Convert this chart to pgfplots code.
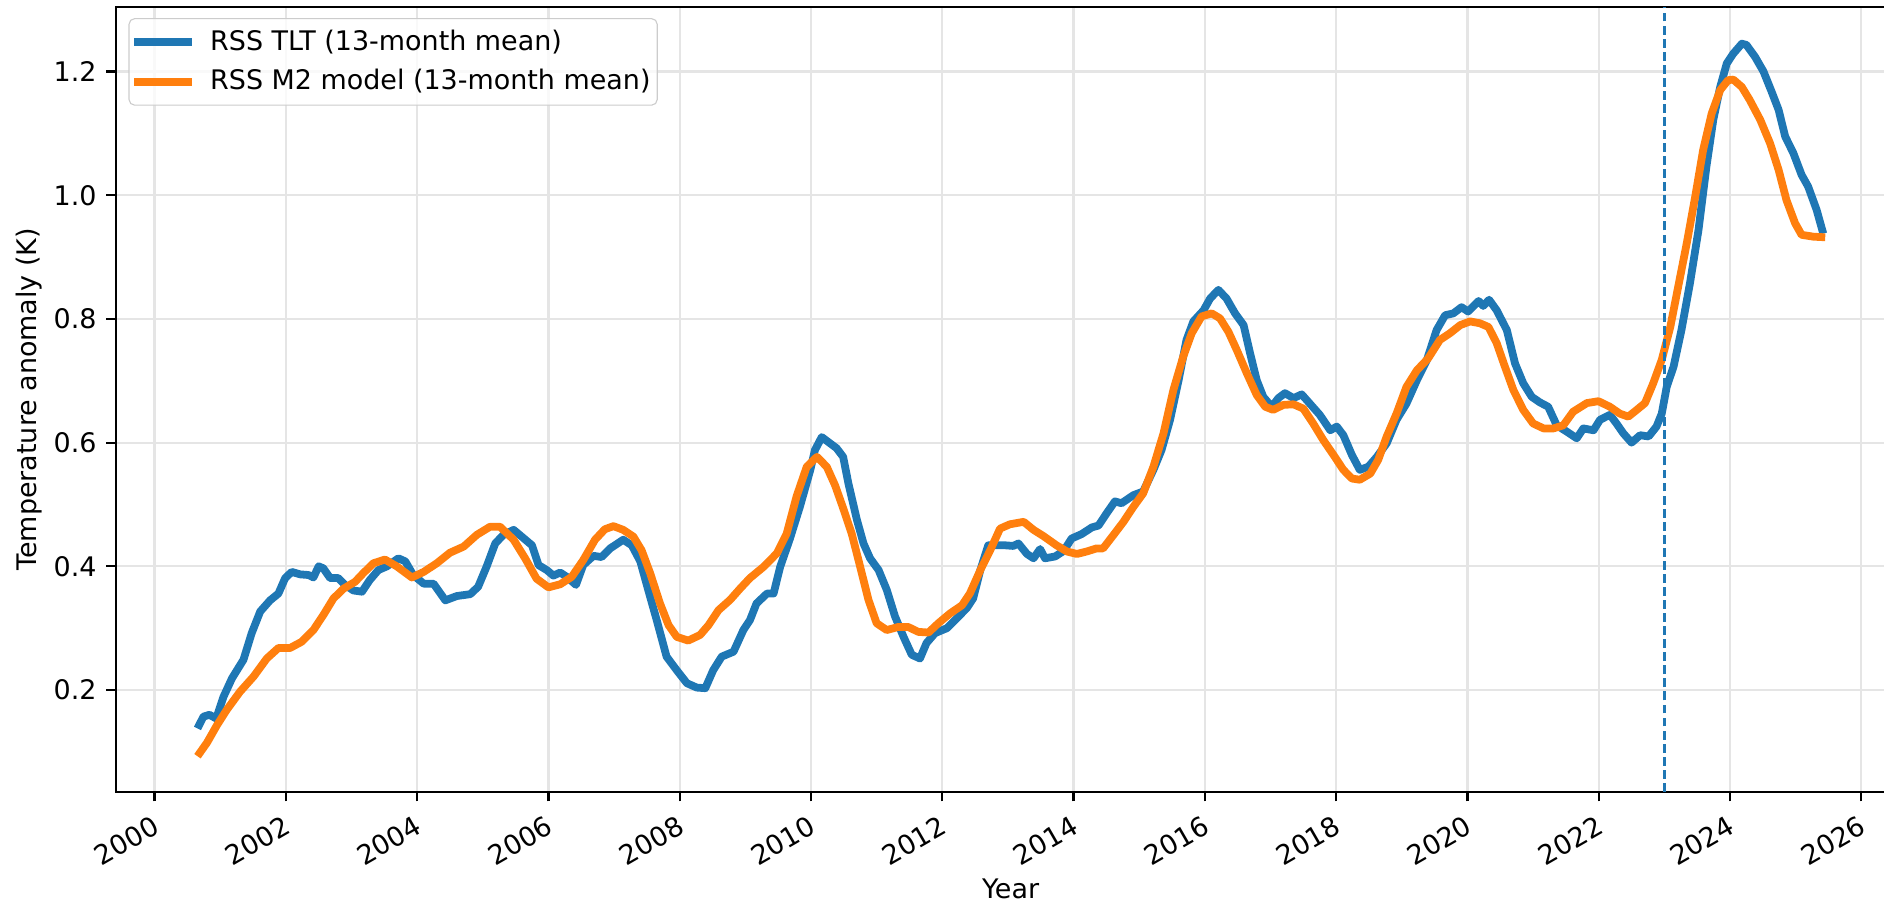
\documentclass[border=0pt]{standalone}
\usepackage{fontspec}
\setmainfont{DejaVu Sans}
\usepackage{pgfplots}
\usepackage{pgfplotstable}
\pgfplotsset{compat=1.18}
\usetikzlibrary{calc}
\definecolor{tabblue}{HTML}{1F77B4}
\definecolor{taborange}{HTML}{FF7F0E}
\newcommand{\chartfont}{\fontsize{9.7}{11.6}\selectfont}

\pgfplotstableread{
x y
2000.654 0.138
2000.745 0.157
2000.836 0.160
2000.94 0.154
2001.05 0.189
2001.18 0.219
2001.355 0.249
2001.48 0.292
2001.61 0.327
2001.76 0.345
2001.887 0.356
2001.99 0.381
2002.09 0.391
2002.22 0.387
2002.345 0.386
2002.42 0.382
2002.50 0.400
2002.57 0.397
2002.675 0.381
2002.80 0.381
2002.90 0.370
2003.03 0.361
2003.16 0.359
2003.28 0.378
2003.41 0.394
2003.54 0.400
2003.715 0.413
2003.82 0.408
2003.94 0.386
2004.10 0.372
2004.25 0.372
2004.43 0.345
2004.605 0.352
2004.81 0.355
2004.93 0.367
2005.06 0.400
2005.19 0.437
2005.315 0.451
2005.47 0.459
2005.594 0.448
2005.75 0.434
2005.85 0.402
2005.975 0.394
2006.076 0.385
2006.18 0.390
2006.28 0.383
2006.42 0.370
2006.53 0.402
2006.686 0.417
2006.81 0.415
2006.94 0.429
2007.14 0.443
2007.27 0.434
2007.40 0.408
2007.52 0.362
2007.65 0.313
2007.80 0.254
2007.955 0.232
2008.11 0.211
2008.26 0.204
2008.39 0.203
2008.51 0.232
2008.64 0.254
2008.82 0.262
2008.97 0.297
2009.07 0.313
2009.17 0.340
2009.33 0.356
2009.43 0.356
2009.53 0.399
2009.68 0.445
2009.83 0.496
2009.99 0.556
2010.06 0.588
2010.164 0.609
2010.29 0.599
2010.39 0.591
2010.49 0.577
2010.57 0.534
2010.70 0.475
2010.80 0.437
2010.90 0.413
2011.03 0.394
2011.154 0.362
2011.28 0.319
2011.41 0.286
2011.535 0.257
2011.66 0.251
2011.76 0.276
2011.89 0.292
2012.07 0.300
2012.22 0.316
2012.37 0.332
2012.47 0.348
2012.58 0.394
2012.70 0.434
2012.83 0.434
2012.96 0.434
2013.08 0.433
2013.16 0.437
2013.29 0.420
2013.39 0.413
2013.49 0.428
2013.565 0.413
2013.72 0.416
2013.85 0.425
2013.97 0.445
2014.12 0.452
2014.28 0.463
2014.38 0.466
2014.505 0.486
2014.63 0.505
2014.73 0.502
2014.91 0.515
2015.06 0.521
2015.216 0.556
2015.34 0.588
2015.47 0.637
2015.60 0.701
2015.72 0.766
2015.825 0.796
2015.98 0.814
2016.08 0.833
2016.206 0.847
2016.33 0.833
2016.46 0.809
2016.59 0.790
2016.69 0.744
2016.79 0.701
2016.89 0.674
2017.02 0.658
2017.12 0.672
2017.22 0.680
2017.35 0.672
2017.475 0.678
2017.60 0.663
2017.75 0.645
2017.91 0.620
2018.01 0.626
2018.11 0.612
2018.24 0.580
2018.36 0.556
2018.49 0.561
2018.62 0.577
2018.77 0.599
2018.92 0.637
2019.07 0.663
2019.23 0.701
2019.38 0.733
2019.53 0.782
2019.66 0.806
2019.785 0.809
2019.91 0.819
2020.01 0.812
2020.17 0.829
2020.24 0.821
2020.33 0.831
2020.445 0.814
2020.60 0.782
2020.725 0.728
2020.85 0.696
2020.98 0.674
2021.105 0.665
2021.23 0.658
2021.36 0.628
2021.51 0.618
2021.665 0.607
2021.765 0.623
2021.92 0.620
2022.02 0.637
2022.17 0.645
2022.27 0.631
2022.375 0.615
2022.50 0.600
2022.63 0.612
2022.76 0.610
2022.88 0.626
2022.96 0.647
2023.035 0.690
2023.14 0.723
2023.26 0.782
2023.39 0.858
2023.52 0.944
2023.64 1.046
2023.745 1.122
2023.85 1.175
2023.95 1.213
2024.05 1.229
2024.18 1.245
2024.25 1.243
2024.38 1.224
2024.51 1.200
2024.635 1.167
2024.74 1.138
2024.84 1.095
2024.965 1.068
2025.09 1.033
2025.19 1.014
2025.32 0.976
2025.42 0.938
}\tlt

\pgfplotstableread{
x y
2000.654 0.093
2000.80 0.115
2000.95 0.143
2001.10 0.168
2001.30 0.197
2001.51 0.222
2001.71 0.251
2001.887 0.268
2002.065 0.268
2002.24 0.278
2002.42 0.297
2002.57 0.321
2002.725 0.348
2002.88 0.364
2003.055 0.375
2003.18 0.389
2003.335 0.405
2003.51 0.411
2003.69 0.400
2003.92 0.382
2004.10 0.391
2004.30 0.405
2004.50 0.422
2004.71 0.432
2004.91 0.451
2005.11 0.464
2005.264 0.464
2005.47 0.443
2005.645 0.413
2005.82 0.380
2006.00 0.366
2006.18 0.371
2006.355 0.383
2006.53 0.410
2006.71 0.443
2006.86 0.460
2006.99 0.465
2007.14 0.459
2007.295 0.448
2007.42 0.426
2007.55 0.389
2007.70 0.340
2007.83 0.305
2007.955 0.286
2008.13 0.280
2008.31 0.289
2008.44 0.305
2008.59 0.329
2008.77 0.346
2008.92 0.364
2009.07 0.381
2009.275 0.399
2009.48 0.421
2009.63 0.453
2009.78 0.513
2009.935 0.561
2010.09 0.577
2010.24 0.561
2010.367 0.531
2010.49 0.494
2010.62 0.453
2010.75 0.399
2010.875 0.346
2011.00 0.308
2011.154 0.297
2011.33 0.302
2011.48 0.302
2011.636 0.294
2011.79 0.293
2011.94 0.308
2012.12 0.324
2012.30 0.337
2012.42 0.356
2012.58 0.394
2012.73 0.426
2012.88 0.461
2013.03 0.468
2013.24 0.472
2013.39 0.459
2013.54 0.449
2013.74 0.434
2013.90 0.424
2014.05 0.420
2014.20 0.424
2014.35 0.429
2014.45 0.429
2014.61 0.451
2014.76 0.472
2014.91 0.496
2015.06 0.518
2015.216 0.561
2015.37 0.615
2015.52 0.685
2015.67 0.739
2015.80 0.777
2015.95 0.804
2016.104 0.809
2016.23 0.801
2016.36 0.779
2016.485 0.750
2016.64 0.712
2016.79 0.677
2016.92 0.658
2017.04 0.653
2017.195 0.661
2017.35 0.662
2017.50 0.655
2017.65 0.631
2017.805 0.604
2017.96 0.580
2018.11 0.556
2018.24 0.542
2018.36 0.540
2018.52 0.550
2018.64 0.572
2018.77 0.610
2018.92 0.647
2019.07 0.690
2019.23 0.717
2019.40 0.736
2019.58 0.766
2019.735 0.777
2019.89 0.790
2020.04 0.796
2020.19 0.793
2020.32 0.787
2020.445 0.761
2020.57 0.723
2020.70 0.685
2020.85 0.653
2021.00 0.631
2021.16 0.623
2021.31 0.623
2021.46 0.628
2021.61 0.650
2021.82 0.664
2021.995 0.667
2022.17 0.658
2022.32 0.647
2022.45 0.642
2022.58 0.653
2022.705 0.664
2022.83 0.696
2022.96 0.734
2023.09 0.787
2023.21 0.852
2023.34 0.922
2023.47 0.998
2023.59 1.073
2023.72 1.132
2023.85 1.170
2023.97 1.186
2024.05 1.187
2024.18 1.175
2024.30 1.154
2024.46 1.122
2024.61 1.084
2024.74 1.041
2024.86 0.992
2024.99 0.955
2025.09 0.936
2025.27 0.933
2025.45 0.932
}\mtwo

\begin{document}
\begin{tikzpicture}
\begin{axis}[
  name=ax,
  scale only axis,
  width=644.1pt, height=282.6pt,
  xmin=1999.413, xmax=2026.668,
  ymin=0.0356, ymax=1.3048,
  xtick={2000,2002,2004,2006,2008,2010,2012,2014,2016,2018,2020,2022,2024,2026},
  ytick={0.2,0.4,0.6,0.8,1.0,1.2},
  /pgf/number format/assume math mode=true,
  xticklabel style={rotate=30, anchor=north east, /pgf/number format/1000 sep={}},
  yticklabel style={/pgf/number format/.cd, fixed, fixed zerofill, precision=1},
  tick label style={font=\chartfont},
  tick align=outside,
  tick pos=left,
  major tick length=3.5pt,
  tick style={black, line width=0.8pt},
  axis line style={line width=0.8pt},
  grid=major,
  grid style={black!10, line width=0.8pt},
  xlabel={Year},
  ylabel={Temperature anomaly (K)},
  every axis x label/.style={at={(rel axis cs:0.5,0)}, anchor=base, yshift=-38.3pt, font=\chartfont},
  every axis y label/.style={at={(rel axis cs:0,0.5)}, xshift=-28.6pt, rotate=90, anchor=base, font=\chartfont},
  legend style={at={(rel axis cs:0,1)}, anchor=north west, xshift=4.5pt, yshift=-4.1pt,
    draw=black!20, rounded corners=2pt, fill=white, fill opacity=0.8, text opacity=1,
    inner xsep=0.4pt, inner ysep=2pt, row sep=1.4pt, cells={anchor=west},
    font=\chartfont},
  legend image code/.code={\draw[#1, line width=2.8pt] (0pt,0pt) -- (21pt,0pt);},
  /tikz/every odd column/.append style={column sep=3pt},
]
\addplot[tabblue, line width=2.8pt, line join=round] table {\tlt};
\addlegendentry{RSS TLT (13-month mean)}
\addplot[taborange, line width=2.8pt, line join=round] table {\mtwo};
\addlegendentry{RSS M2 model (13-month mean)}
\addplot[forget plot, tabblue, line width=1pt, dash pattern=on 3.2pt off 1.5pt] coordinates {(2023.0,0.0356) (2023.0,1.3048)};
\end{axis}
\pgfresetboundingbox
\path ($(ax.south west)+(-41.76pt,-39.7pt)$) rectangle ++(678.24pt,324.72pt);
\end{tikzpicture}
\end{document}
